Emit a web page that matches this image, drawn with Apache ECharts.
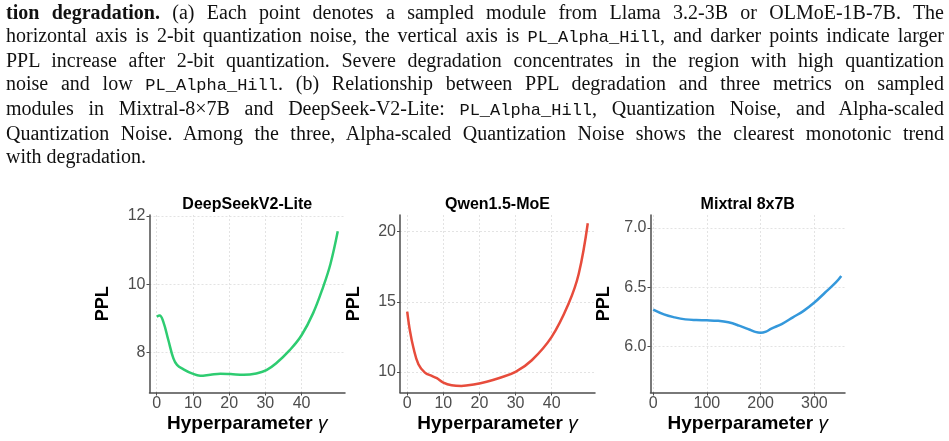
<!DOCTYPE html>
<html>
<head>
<meta charset="utf-8">
<script src="https://cdn.jsdelivr.net/npm/echarts@6/dist/echarts.min.js"></script>
<style>
html, body { margin: 0; padding: 0; background: #fff; }
#main { position: absolute; left: 0; top: 0; width: 949px; height: 441px; }
#caption { position: absolute; left: 6px; top: 1px; width: 938px; z-index: 2;
  font-family: "Liberation Serif", serif; font-size: 20px; line-height: 23px; color: #111; }
#caption div { white-space: nowrap; text-align: justify; text-align-last: justify; }
#caption div.last { text-align-last: left; }
#caption code { font-family: "Liberation Mono", monospace; font-size: 17px; }
</style>
</head>
<body>
<div id="caption">
  <div><b>tion degradation.</b> (a) Each point denotes a sampled module from Llama 3.2-3B or OLMoE-1B-7B. The</div>
  <div>horizontal axis is 2-bit quantization noise, the vertical axis is <code>PL_Alpha_Hill</code>, and darker points indicate larger</div>
  <div>PPL increase after 2-bit quantization. Severe degradation concentrates in the region with high quantization</div>
  <div>noise and low <code>PL_Alpha_Hill</code>. (b) Relationship between PPL degradation and three metrics on sampled</div>
  <div>modules in Mixtral-8&times;7B and DeepSeek-V2-Lite: <code>PL_Alpha_Hill</code>, Quantization Noise, and Alpha-scaled</div>
  <div>Quantization Noise. Among the three, Alpha-scaled Quantization Noise shows the clearest monotonic trend</div>
  <div class="last">with degradation.</div>
</div>
<div id="main"></div>
<script>
// data
var titles = ['DeepSeekV2-Lite', 'Qwen1.5-MoE', 'Mixtral 8x7B'];

var dsGamma = [0, 0.8, 1.8, 3.2, 4.6, 5.6, 7.4, 9.7, 12, 14.8, 17.6, 20.4, 24, 27.5, 30.3, 33, 36.8, 40, 43.2, 46, 48, 50];
var dsPPL   = [9.05, 9.08, 8.9, 8.36, 7.82, 7.63, 7.5, 7.38, 7.31, 7.34, 7.37, 7.36, 7.34, 7.38, 7.48, 7.68, 8.07, 8.5, 9.15, 9.93, 10.6, 11.55];

var qwGamma = [0, 0.75, 1.7, 3.1, 4.9, 6.8, 8.2, 10, 12.3, 15, 18.8, 22, 25.3, 30, 34.5, 40, 44.7, 47.5, 50];
var qwPPL   = [14.3, 12.93, 11.74, 10.55, 9.95, 9.71, 9.55, 9.24, 9.05, 9.0, 9.12, 9.3, 9.55, 10.0, 10.83, 12.5, 14.88, 17.0, 20.6];

var mxGamma = [0, 20, 40, 60, 80, 100, 120, 140, 160, 180, 190, 200, 210, 220, 240, 260, 280, 300, 320, 340, 350];
var mxPPL   = [6.31, 6.27, 6.245, 6.228, 6.222, 6.22, 6.216, 6.203, 6.175, 6.14, 6.122, 6.115, 6.125, 6.15, 6.19, 6.245, 6.30, 6.37, 6.455, 6.54, 6.595];

var xTicks = [[0, 10, 20, 30, 40], [0, 10, 20, 30, 40], [0, 100, 200, 300]];
var yTicks = [[8, 10, 12], [10, 15, 20], [6.0, 6.5, 7.0]];

var colors = ['#2ecc71', '#e74c3c', '#3498db'];

var chart = echarts.init(document.getElementById('main'));

function pairs(xs, ys) {
  return xs.map(function (x, i) { return [x, ys[i]]; });
}

var seriesData = [pairs(dsGamma, dsPPL), pairs(qwGamma, qwPPL), pairs(mxGamma, mxPPL)];
var xRange = [[-2, 52], [-2, 52], [-5, 357]];
var yRange = [[6.82, 12.03], [8.53, 21.19], [5.61, 7.11]];
var lefts = [149.5, 400, 650.5];
var widths = [195.5, 195, 194.5];

var font = 'Liberation Sans';
var axisColor = '#4d4d4d';

var grids = [], xAxes = [], yAxes = [], series = [], titleList = [];
for (var i = 0; i < 3; i++) {
  grids.push({ left: lefts[i], top: 215, width: widths[i], height: 177.5 });
  titleList.push({
    text: titles[i], left: lefts[i] + widths[i] / 2, top: 197, textAlign: 'center', padding: 0,
    textStyle: { fontFamily: font, fontSize: 16, fontWeight: 'bold', color: '#000' }
  });
  xAxes.push({
    type: 'value', gridIndex: i, min: xRange[i][0], max: xRange[i][1],
    axisLine: { show: true, onZero: false, lineStyle: { color: axisColor, width: 1.5 } },
    axisTick: { show: true, length: 3, customValues: xTicks[i], lineStyle: { color: axisColor, width: 1 } },
    axisLabel: { customValues: xTicks[i], fontFamily: font, fontSize: 16, color: axisColor, margin: 3 },
    splitLine: { show: true, lineStyle: { color: '#e3e3e3', width: 1, type: [2, 2] } },
    name: '{b|Hyperparameter }{g|γ}', nameLocation: 'middle', nameGap: 22,
    nameTextStyle: {
      rich: {
        b: { fontFamily: font, fontSize: 19, fontWeight: 'bold', color: '#000' },
        g: { fontFamily: font, fontSize: 19, fontStyle: 'italic', color: '#000' }
      }
    }
  });
  yAxes.push({
    type: 'value', gridIndex: i, min: yRange[i][0], max: yRange[i][1],
    axisLine: { show: true, onZero: false, lineStyle: { color: axisColor, width: 1.5 } },
    axisTick: { show: true, length: 3, customValues: yTicks[i], lineStyle: { color: axisColor, width: 1 } },
    axisLabel: {
      customValues: yTicks[i], fontFamily: font, fontSize: 16, color: axisColor, margin: 4,
      formatter: i === 2 ? function (v) { return v.toFixed(1); } : '{value}'
    },
    splitLine: { show: true, lineStyle: { color: '#e3e3e3', width: 1, type: [2, 2] } },
    name: 'PPL', nameLocation: 'middle', nameGap: 37,
    nameTextStyle: { fontFamily: font, fontSize: 18, fontWeight: 'bold', color: '#000' }
  });
  series.push({
    type: 'line', xAxisIndex: i, yAxisIndex: i, data: seriesData[i],
    smooth: 0.4, showSymbol: false, silent: true,
    lineStyle: { color: colors[i], width: 2.5 }
  });
}

chart.setOption({
  animation: false,
  title: titleList,
  grid: grids,
  xAxis: xAxes,
  yAxis: yAxes,
  series: series
});
</script>
</body>
</html>
